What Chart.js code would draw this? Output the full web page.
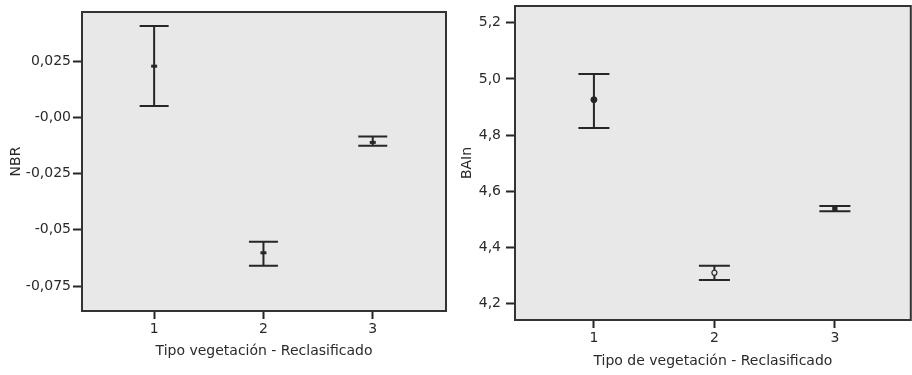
<!DOCTYPE html>
<html>
<head>
<meta charset="utf-8">
<script src="https://cdn.jsdelivr.net/npm/chart.js"></script>
<style>
  html, body { margin: 0; padding: 0; background: #fff; }
  .wrap { position: relative; width: 912px; height: 375px; overflow: hidden; }
  .panel { position: absolute; top: 0; height: 375px; }
</style>
</head>
<body>
<div class="wrap">
  <div class="panel" style="left:0;width:456px"><canvas id="nbr" width="456" height="375"></canvas></div>
  <div class="panel" style="left:456px;width:460px"><canvas id="bai" width="460" height="375"></canvas></div>
</div>
<script>
// vegetation types on the x axis
const categories = [1, 2, 3];
const categoryLabels = ['1', '2', '3'];

// NBR: mean with lower / upper interval bound per type
const nbrMean  = [0.0228, -0.0602, -0.0111];
const nbrLower = [0.0051, -0.0660, -0.0126];
const nbrUpper = [0.0407, -0.0553, -0.0085];
const nbrTicks = [0.025, 0, -0.025, -0.05, -0.075];
const nbrTickLabels = ['0,025', '-0,00', '-0,025', '-0,05', '-0,075'];

// BAIn: mean with lower / upper interval bound per type
const baiMean  = [4.926, 4.309, 4.537];
const baiLower = [4.825, 4.283, 4.528];
const baiUpper = [5.018, 4.334, 4.547];
const baiTicks = [5.2, 5.0, 4.8, 4.6, 4.4, 4.2];
const baiTickLabels = ['5,2', '5,0', '4,8', '4,6', '4,4', '4,2'];

Chart.defaults.font.family = '"DejaVu Sans", sans-serif';
Chart.defaults.font.size = 14;
Chart.defaults.color = '#2a2a2a';

const INK = '#262626';
const PANEL_BG = '#e8e8e8';

// grey panel, black frame and the interval whiskers
const errorBarPlugin = {
  id: 'errorBars',
  beforeDraw(chart) {
    const { ctx, chartArea: a } = chart;
    ctx.save();
    ctx.fillStyle = PANEL_BG;
    ctx.fillRect(a.left, a.top, a.right - a.left, a.bottom - a.top);
    ctx.restore();
  },
  beforeDatasetsDraw(chart, args, opts) {
    const { ctx, scales: { x, y } } = chart;
    ctx.save();
    ctx.strokeStyle = INK;
    ctx.lineWidth = 2;
    opts.x.forEach((cx, i) => {
      const px = x.getPixelForValue(cx);
      const top = y.getPixelForValue(opts.upper[i]);
      const bot = y.getPixelForValue(opts.lower[i]);
      ctx.beginPath();
      ctx.moveTo(px, top); ctx.lineTo(px, bot);
      ctx.moveTo(px - opts.cap, top); ctx.lineTo(px + opts.cap, top);
      ctx.moveTo(px - opts.cap, bot); ctx.lineTo(px + opts.cap, bot);
      ctx.stroke();
    });
    ctx.restore();
  },
  afterDraw(chart) {
    const { ctx, chartArea: a } = chart;
    ctx.save();
    ctx.strokeStyle = '#333';
    ctx.lineWidth = 2;
    ctx.strokeRect(a.left, a.top, a.right - a.left, a.bottom - a.top);
    ctx.restore();
  }
};

function makeChart(id, cfg) {
  return new Chart(document.getElementById(id), {
    type: 'scatter',
    data: {
      datasets: [{
        data: categories.map((c, i) => ({ x: c, y: cfg.mean[i] })),
        pointStyle: cfg.pointStyle,
        pointRadius: cfg.pointRadius,
        borderWidth: cfg.pointBorder,
        borderColor: INK,
        backgroundColor: cfg.pointFill
      }]
    },
    options: {
      responsive: false,
      animation: false,
      layout: { padding: cfg.padding },
      plugins: {
        legend: { display: false },
        tooltip: { enabled: false },
        errorBars: { x: categories, lower: cfg.lower, upper: cfg.upper, cap: cfg.cap }
      },
      scales: {
        x: {
          type: 'linear',
          min: cfg.xMin, max: cfg.xMax,
          afterBuildTicks: s => { s.ticks = categories.map(v => ({ value: v })); },
          afterFit: s => {
            s.height = cfg.xHeight;
            s.paddingLeft = s.paddingRight = 0;
          },
          ticks: { padding: 2, callback: (v, i) => categoryLabels[i] },
          grid: { drawOnChartArea: false, tickLength: 8, tickWidth: 2, color: INK },
          border: { display: false },
          title: { display: true, text: cfg.xTitle, padding: 0 }
        },
        y: {
          type: 'linear',
          min: cfg.yMin, max: cfg.yMax,
          afterBuildTicks: s => { s.ticks = cfg.ticks.map(v => ({ value: v })); },
          afterFit: s => {
            s.width = cfg.yWidth;
            s.paddingTop = s.paddingBottom = 0;
          },
          ticks: { padding: cfg.yTickPad, callback: (v, i) => cfg.tickLabels[i] },
          grid: { drawOnChartArea: false, tickLength: 9, tickWidth: 2, color: INK },
          border: { display: false },
          title: { display: true, text: cfg.yTitle, padding: { top: cfg.yTitlePad, bottom: 0 } }
        }
      }
    },
    plugins: [errorBarPlugin]
  });
}

makeChart('nbr', {
  mean: nbrMean, lower: nbrLower, upper: nbrUpper,
  ticks: nbrTicks, tickLabels: nbrTickLabels,
  yMin: -0.0861, yMax: 0.0469, xMin: 0.34, xMax: 3.67,
  yTitle: 'NBR', xTitle: 'Tipo vegetación - Reclasificado',
  padding: { top: 12, right: 10, bottom: 15, left: 0 },
  xHeight: 49, yWidth: 82, yTickPad: 2, yTitlePad: 7.6,
  cap: 14.5,
  pointStyle: ['line', 'line', 'line'], pointRadius: 3, pointBorder: 3,
  pointFill: INK
});

makeChart('bai', {
  mean: baiMean, lower: baiLower, upper: baiUpper,
  ticks: baiTicks, tickLabels: baiTickLabels,
  yMin: 4.1406, yMax: 5.26, xMin: 0.345, xMax: 3.63,
  yTitle: 'BAIn', xTitle: 'Tipo de vegetación - Reclasificado',
  padding: { top: 6, right: 1, bottom: 5, left: 0 },
  xHeight: 50, yWidth: 59, yTickPad: 5, yTitlePad: 2.6,
  cap: 15.5,
  pointStyle: ['circle', 'circle', 'rect'], pointRadius: [3, 2.5, 3], pointBorder: [1, 1.2, 1],
  pointFill: [INK, PANEL_BG, INK]
});
</script>
</body>
</html>
